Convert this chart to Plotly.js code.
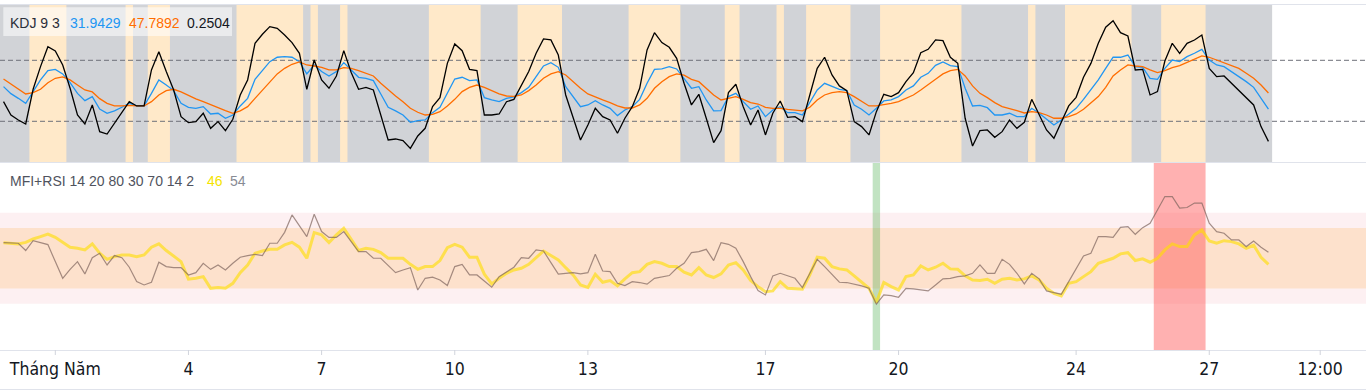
<!DOCTYPE html>
<html>
<head>
<meta charset="utf-8">
<script src="https://cdn.plot.ly/plotly-3.0.1.min.js"></script>
<style>html,body{margin:0;padding:0;background:#fff;}#chart{width:1366px;height:392px;}</style>
</head>
<body>
<div id="chart"></div>
<script>
// ---- data (4h bars, index 0 = first visible bar) ----
const kLine = [54.1,47.2,42.6,37.7,49.2,60.7,69.8,71.1,66.6,58.0,47.5,40.3,44.3,32.1,27.9,30.2,33.8,37.7,35.1,35.1,47.5,60.7,55.7,50.2,37.7,33.8,32.8,34.4,27.2,27.9,23.0,26.2,35.1,42.6,61.3,69.8,78.7,83.0,83.6,83.0,78.7,66.6,75.4,68.9,64.6,68.9,77.7,
 70.5,63.3,62.3,60.0,46.9,33.8,30.2,26.2,19.0,20.7,21.3,28.5,33.8,48.2,61.6,63.3,60.0,60.7,43.3,41.0,39.3,42.6,44.0,48.2,53.4,63.9,74.4,77.7,73.1,54.1,44.3,34.4,36.1,40.3,36.1,32.8,25.6,31.1,34.4,41.6,57.4,71.1,71.5,73.8,71.5,62.3,
 52.5,54.1,41.0,30.2,30.5,44.3,47.5,39.3,31.8,35.1,24.6,31.1,34.4,28.5,28.5,26.2,38.4,50.8,57.4,54.1,51.5,50.2,36.1,31.8,26.2,32.8,40.0,41.0,44.3,50.8,54.8,63.3,67.2,75.1,78.4,74.8,73.8,52.5,35.1,35.7,33.4,26.2,26.2,27.9,24.6,24.6,
 32.8,27.9,22.0,16.4,21.3,27.2,32.8,41.6,50.8,60.7,72.1,83.0,83.0,85.2,73.8,73.1,62.3,61.3,72.1,80.3,78.7,83.6,86.9,90.8,80.3,75.4,73.8,68.9,64.6,59.0,53.4,42.6,31.9429];
const dLine = [61.6,56.7,52.5,46.9,48.2,51.5,58.0,62.3,63.6,60.7,55.7,50.8,48.9,42.3,37.7,35.1,35.1,35.7,35.1,35.1,39.3,45.9,50.2,51.5,48.9,45.2,42.0,39.3,36.1,33.4,30.5,27.9,30.2,34.4,42.6,50.8,59.0,66.6,72.1,76.1,78.4,75.4,74.4,73.1,70.5,70.5,72.8,
 72.0,69.8,67.2,64.6,57.4,50.8,44.9,39.3,32.8,28.9,26.2,26.9,29.5,35.1,41.6,49.2,53.4,55.7,53.4,50.2,46.9,44.9,44.6,45.9,50.2,55.7,62.3,66.6,68.9,65.6,59.0,52.5,46.9,43.6,41.0,38.4,35.1,33.1,33.1,36.1,42.6,52.5,59.0,63.9,66.6,65.4,
 61.3,59.0,52.5,45.9,41.0,42.6,44.3,41.6,38.4,37.0,33.8,32.8,32.8,31.8,31.1,30.2,33.8,41.0,45.9,48.2,49.2,48.2,44.3,40.0,35.1,35.1,36.1,37.7,39.3,42.6,45.9,50.8,55.7,61.3,66.6,69.8,71.1,64.6,54.8,47.5,43.3,38.4,34.4,32.8,30.5,28.2,
 29.5,28.5,26.2,23.0,23.0,24.6,27.2,31.8,37.7,44.3,53.4,64.6,70.5,75.4,74.4,73.8,70.5,67.9,69.8,72.8,74.8,77.7,81.0,84.3,83.0,80.3,78.0,75.4,72.1,67.2,62.3,55.7,47.7892];
const jLine = [39.3,26.2,21.3,17.4,51.5,73.8,93.4,89.2,75.4,52.5,26.2,17.4,36.1,9.8,7.5,18.0,29.5,39.3,35.1,35.1,70.5,88.5,68.9,50.8,24.6,18.7,19.7,27.9,13.1,19.7,10.8,22.0,45.9,60.7,96.7,105.6,113.1,111.5,104.9,97.4,86.9,51.5,80.3,60.7,52.5,64.6,89.5,
 68.0,51.5,53.4,50.8,26.2,1.6,2.6,1.0,-6.6,5.6,13.1,34.4,43.3,77.0,96.1,89.5,71.1,69.8,26.2,26.2,27.2,39.3,41.6,54.8,68.9,86.9,101.0,100.0,85.2,45.9,24.6,1.6,16.4,32.8,24.6,21.3,8.2,23.0,34.4,52.5,90.2,107.2,97.4,92.8,82.0,57.4,
 36.1,46.6,23.0,-1.0,10.8,48.2,56.4,34.4,16.4,31.1,6.6,27.9,40.0,23.9,24.6,19.7,45.9,72.1,83.0,65.6,54.8,50.2,19.7,14.8,6.6,29.5,46.6,44.3,48.2,59.0,67.9,87.5,90.8,100.0,99.3,83.0,77.0,23.0,-4.3,10.8,11.5,4.3,9.8,21.3,13.1,19.0,
 41.6,26.2,11.5,3.3,19.7,35.1,43.6,63.3,77.0,96.7,112.5,119.0,107.2,103.9,70.5,71.1,45.9,49.2,79.3,96.7,86.9,96.7,100.0,104.9,72.1,63.9,64.6,57.4,50.8,42.6,36.1,14.8,0.2504];
const rsiLine = [60.3,59.9,59.5,60.5,62.7,64.3,66.0,63.8,60.3,57.3,56.6,55.5,59.5,53.3,49.3,51.1,52.2,52.2,51.1,52.2,57.3,59.5,55.1,51.5,47.8,36.2,36.8,37.9,30.2,30.7,30.2,33.5,40.5,45.6,53.3,54.8,55.9,55.9,58.8,60.5,57.3,50.0,66.9,65.4,60.3,65.4,69.8,
 62.5,55.1,56.6,55.9,53.7,50.0,50.0,50.0,46.0,42.7,44.5,44.5,48.5,57.0,59.2,57.3,50.7,50.7,39.5,33.1,36.8,40.1,42.3,43.4,46.0,50.7,54.8,51.8,48.9,43.8,39.0,32.4,30.7,39.5,34.2,35.3,31.8,36.4,40.5,41.2,46.0,47.8,46.7,44.5,44.5,40.8,
 39.0,43.8,39.0,37.3,39.7,45.6,47.1,42.3,35.3,31.3,28.0,28.5,34.6,30.2,29.8,29.6,39.0,50.7,50.0,44.5,43.0,42.3,38.4,34.0,30.2,20.8,34.0,31.3,29.1,37.9,39.0,44.9,42.3,44.1,46.7,43.0,42.7,38.4,35.7,35.3,36.2,33.5,36.2,36.8,35.7,36.4,
 38.4,35.7,30.2,26.9,25.2,33.5,34.6,37.9,41.2,46.7,48.5,50.0,52.9,53.7,48.5,49.6,47.4,50.0,55.5,59.5,57.7,57.7,65.4,68.7,61.4,59.9,61.6,61.0,59.5,56.6,58.6,50.7,46];
const mfiLine = [60.3,59.9,59.9,55.1,61.6,60.3,59.0,47.8,36.8,42.7,47.8,39.7,50.4,53.3,45.6,51.8,50.4,44.1,34.6,32.4,34.2,47.4,44.5,43.8,43.8,39.0,40.5,46.7,42.7,45.6,42.3,46.7,50.7,51.8,52.6,51.8,59.9,59.9,67.1,78.6,71.5,64.3,79.0,67.6,63.8,63.8,67.6,
 61.0,54.4,54.4,50.0,50.0,44.9,40.5,42.3,43.8,29.1,36.8,37.5,35.7,32.0,44.5,46.0,39.0,39.0,35.1,30.9,37.9,40.8,44.1,50.4,50.0,55.5,54.8,47.1,39.5,40.1,40.5,39.7,40.5,52.6,41.6,41.2,33.5,32.0,34.6,34.0,32.9,36.8,37.5,38.6,43.4,46.7,
 53.7,54.4,55.9,48.5,60.3,59.2,56.6,47.8,37.9,28.7,25.8,38.4,40.1,38.6,36.8,30.7,40.1,49.3,44.5,39.0,34.2,34.0,33.1,31.8,30.2,19.7,25.8,25.4,24.3,30.2,29.8,29.1,28.5,32.4,36.4,36.8,37.9,38.4,40.1,45.6,40.1,40.1,49.3,46.0,40.1,33.1,
 40.1,36.4,28.5,27.4,26.3,34.6,43.4,51.5,53.3,64.3,64.3,63.8,70.4,70.9,65.8,70.2,73.1,81.9,90.7,90.7,83.1,83.5,86.4,86.4,73.1,67.6,66.5,62.1,62.1,57.7,61.4,57.3,54];
// bullish (K above D) bar ranges, inclusive
const bullRanges = [[4,8],[17,17],[20,22],[32,40],[42,42],[46,46],[58,64],[70,75],[85,91],[98,99],[105,105],[109,114],[119,129],[139,139],[144,152],[157,162]];
const buySignalBars = [[118,118]];
const sellSignalBars = [[156,162]];
const tickBars = [7,25,43,61,79,103,121,145,163,178];
const tickLabels = ['Tháng Năm','4','7','10','13','17','20','24','27','12:00'];
const kdjLevels = [80,20];
const bandOuter = [20,80];
const bandInner = [30,70];

const xs = kLine.map((_, i) => i);
const lastBar = xs.length - 1;

const traces = [
  {x: xs, y: kLine, type: 'scatter', mode: 'lines', line: {color: '#2196f3', width: 1.3}, yaxis: 'y', hoverinfo: 'skip'},
  {x: xs, y: dLine, type: 'scatter', mode: 'lines', line: {color: '#ff6d00', width: 1.3}, yaxis: 'y', hoverinfo: 'skip'},
  {x: xs, y: jLine, type: 'scatter', mode: 'lines', line: {color: '#000000', width: 1.3}, yaxis: 'y', hoverinfo: 'skip'},
  {x: xs, y: rsiLine, type: 'scatter', mode: 'lines', line: {color: 'rgba(255,221,0,0.62)', width: 3}, yaxis: 'y2', hoverinfo: 'skip'},
  {x: xs, y: mfiLine, type: 'scatter', mode: 'lines', line: {color: 'rgba(125,100,92,0.7)', width: 1.2}, yaxis: 'y2', hoverinfo: 'skip'}
];

const shapes = [];
// KDJ panel background
shapes.push({type: 'rect', layer: 'below', xref: 'x', yref: 'y domain', x0: -0.5, x1: lastBar + 0.5, y0: 0, y1: 1, fillcolor: '#d1d3d7', line: {width: 0}});
bullRanges.forEach(r => shapes.push({type: 'rect', layer: 'below', xref: 'x', yref: 'y domain', x0: r[0] - 0.5, x1: r[1] + 0.5, y0: 0, y1: 1, fillcolor: '#ffe9c9', line: {width: 0}}));
kdjLevels.forEach(v => shapes.push({type: 'line', layer: 'below', xref: 'paper', yref: 'y', x0: 0, x1: 1, y0: v, y1: v, line: {color: '#6e717a', width: 1, dash: '5px,3px'}}));
// MFI+RSI bands
shapes.push({type: 'rect', layer: 'below', xref: 'paper', yref: 'y2', x0: 0, x1: 1, y0: bandOuter[0], y1: bandOuter[1], fillcolor: '#fdf0f2', line: {width: 0}});
shapes.push({type: 'rect', layer: 'below', xref: 'paper', yref: 'y2', x0: 0, x1: 1, y0: bandInner[0], y1: bandInner[1], fillcolor: '#fde1cc', line: {width: 0}});
buySignalBars.forEach(r => shapes.push({type: 'rect', layer: 'below', xref: 'x', yref: 'y2 domain', x0: r[0] - 0.5, x1: r[1] + 0.5, y0: 0, y1: 1, fillcolor: 'rgba(76,175,80,0.35)', line: {width: 0}}));
sellSignalBars.forEach(r => shapes.push({type: 'rect', layer: 'below', xref: 'x', yref: 'y2 domain', x0: r[0] - 0.5, x1: r[1] + 0.5, y0: 0, y1: 1, fillcolor: 'rgba(255,82,82,0.45)', line: {width: 0}}));
// frame lines
[1 - 4.5 / 392, 1 - 162.5 / 392, 1 - 389.5 / 392].forEach(p => shapes.push({type: 'line', xref: 'paper', yref: 'paper', x0: 0, x1: 1, y0: p, y1: p, line: {color: '#e0e3eb', width: 1}}));
// x tick marks (below the axis line)
tickBars.forEach(t => shapes.push({type: 'line', xref: 'x', yref: 'paper', x0: t, x1: t, y0: 1 - 350 / 392, y1: 1 - 355 / 392, line: {color: '#d1d4dc', width: 1}}));
// legend box
shapes.push({type: 'rect', xref: 'paper', yref: 'paper', x0: 3.3 / 1366, x1: 232 / 1366, y0: 1 - 36 / 392, y1: 1 - 7.3 / 392, fillcolor: 'rgba(255,255,255,0.55)', line: {width: 0}});

const fontFam = 'Liberation Sans, Arial, sans-serif';
function ann(text, px, py, color, size) {
  return {xref: 'paper', yref: 'paper', x: px / 1366, y: 1 - py / 392, xanchor: 'left', yanchor: 'middle', showarrow: false, text: text, font: {family: fontFam, size: size, color: color}};
}
const annotations = [
  ann('KDJ 9 3', 8, 23, '#2a2e39', 14),
  ann(kLine[lastBar].toFixed(4), 68, 23, '#2196f3', 14),
  ann(dLine[lastBar].toFixed(4), 126.5, 23, '#ff6d00', 14),
  ann(jLine[lastBar].toFixed(4), 184.5, 23, '#131722', 14),
  ann('MFI+RSI 14 20 80 30 70 14 2', 7.5, 181, '#50535e', 14),
  ann(String(Math.round(rsiLine[lastBar])), 205, 181, '#f5e400', 14),
  ann(String(Math.round(mfiLine[lastBar])), 228, 181, '#888b94', 14)
];

const layout = {
  width: 1366, height: 392,
  margin: {l: 0, r: 0, t: 0, b: 0, pad: 0},
  paper_bgcolor: '#ffffff', plot_bgcolor: '#ffffff',
  showlegend: false,
  xaxis: {
    range: [-0.476, 184.19], anchor: 'y2', showgrid: false, zeroline: false,
    tickmode: 'array', tickvals: tickBars, ticktext: tickLabels,
    ticks: '', ticklabelstandoff: 3,
    showline: true, linecolor: '#e0e3eb', linewidth: 1,
    tickfont: {family: 'Liberation Sans Narrow, DejaVu Sans Condensed, Roboto Condensed, Arial Narrow, Liberation Sans, sans-serif', size: 17.5, color: '#131722'},
    fixedrange: true
  },
  yaxis: {domain: [1 - 162 / 392, 1 - 5 / 392], range: [-20.03, 134.4], showgrid: false, zeroline: false, showticklabels: false, ticks: '', fixedrange: true},
  yaxis2: {domain: [1 - 350 / 392, 1 - 162 / 392], range: [-10.5, 113.5], showgrid: false, zeroline: false, showticklabels: false, ticks: '', fixedrange: true},
  shapes: shapes,
  annotations: annotations
};

Plotly.newPlot('chart', traces, layout, {staticPlot: true, displayModeBar: false});
</script>
</body>
</html>
